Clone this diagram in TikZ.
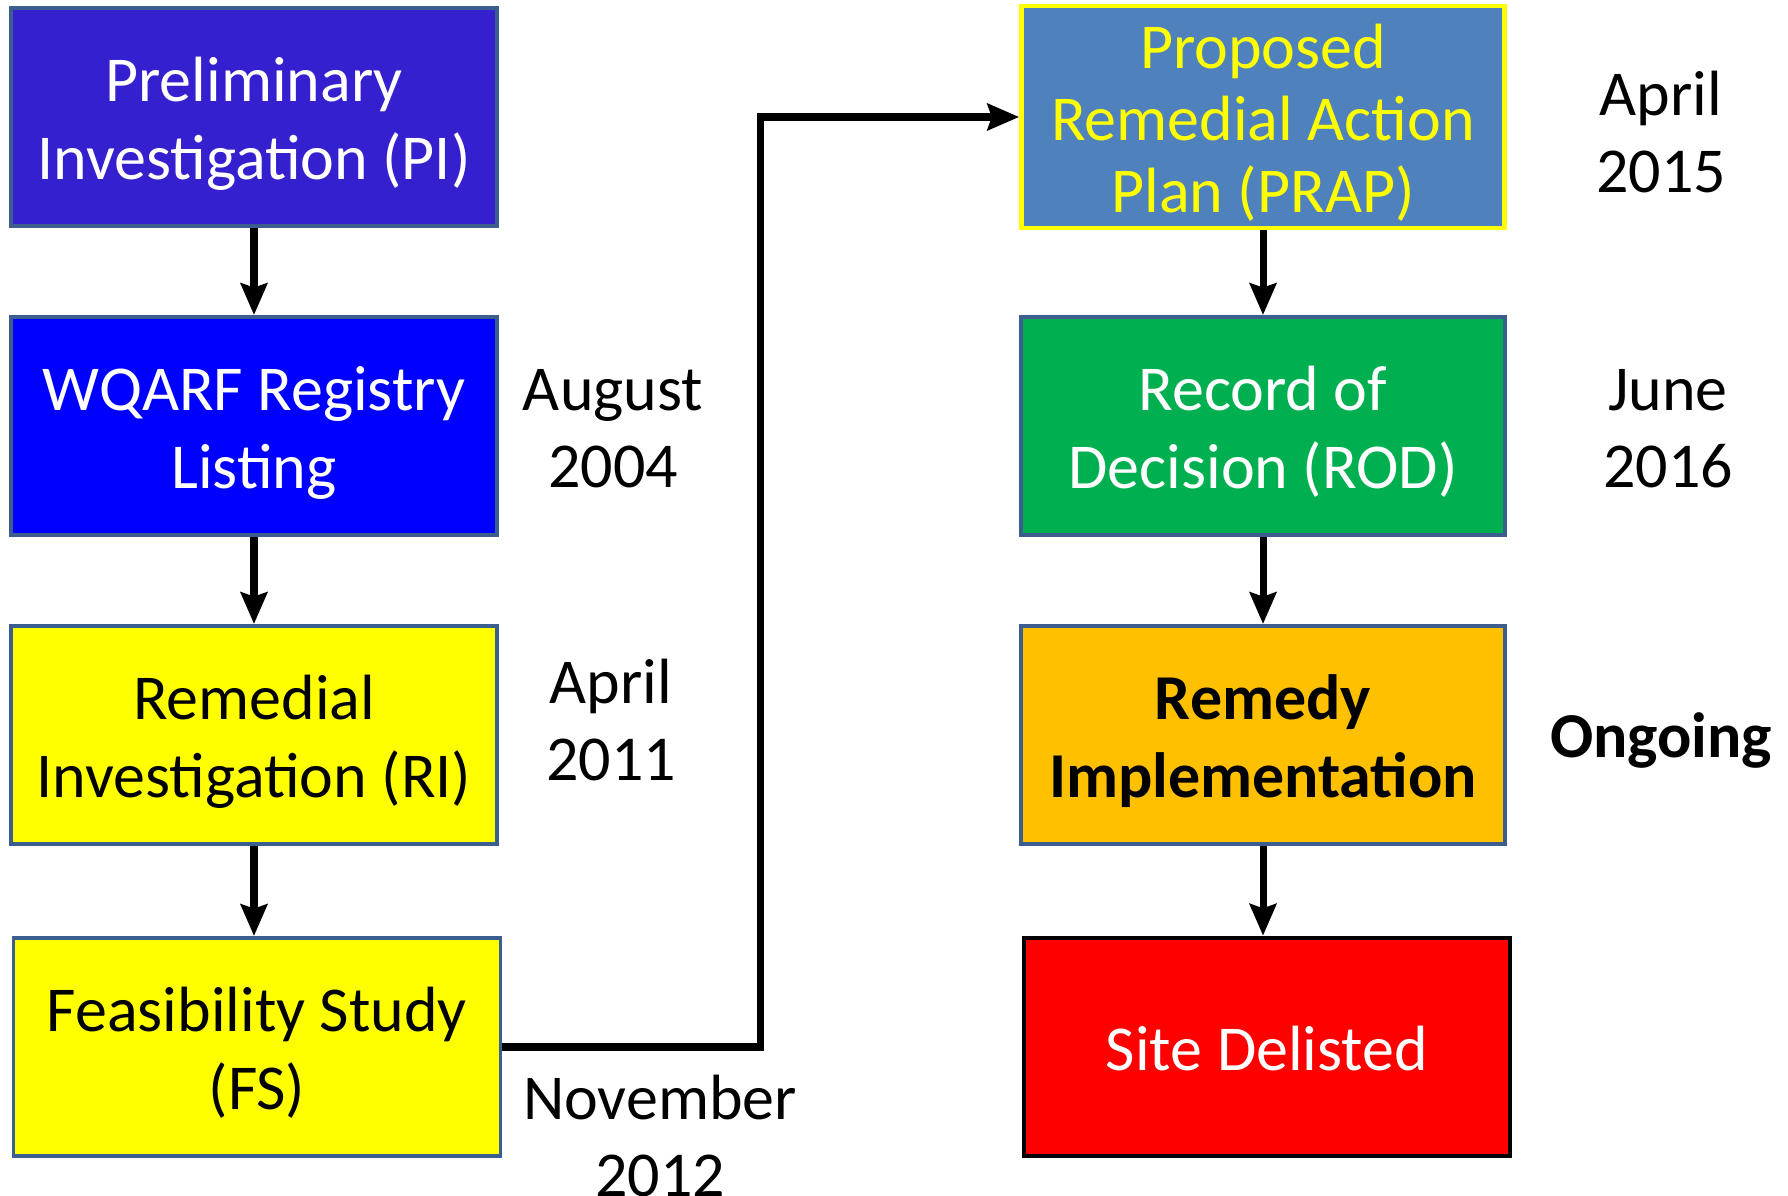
\documentclass[tikz,border=0pt]{standalone}
\usepackage{fontspec}
\setmainfont{Carlito}
\usetikzlibrary{arrows.meta}
\usetikzlibrary{positioning}

\begin{document}
\begin{tikzpicture}
    \definecolor{pi_blue}{HTML}{3520D0}
    \definecolor{reg_blue}{HTML}{0000FF}
    \definecolor{ri_yellow}{HTML}{FFFF00}
    \definecolor{prap_blue}{HTML}{4F81BD}
    \definecolor{rod_green}{HTML}{00B050}
    \definecolor{remedy_orange}{HTML}{FFC000}
    \definecolor{site_red}{HTML}{FF0000}
    \definecolor{edge_blue}{HTML}{3C5E8E}
    \tikzstyle{stage}=[rectangle, draw=edge_blue, line width=1.1pt,
                       minimum width=4.86cm, minimum height=2.18cm,
                       inner sep=0pt, align=center,
                       text height=39.8pt, text depth=4.5pt,
                       font=\fontsize{18.2}{22}\selectfont]
    \tikzstyle{datelabel}=[align=center, inner sep=0pt,
                           font=\fontsize{18.2}{22}\selectfont]
    \tikzstyle{flowarrow}=[line width=2pt,
                           -{Stealth[length=9pt, width=7.5pt, inset=1.2pt]}]
    \useasboundingbox (0,0) rectangle (17.88,-11.96);
    % left column
    \node[stage, fill=pi_blue, text=white] (prelim) at (2.54,-1.17) {Preliminary\\Investigation (PI)};
    \node[stage, fill=reg_blue, text=white] (registry) at (2.54,-4.26) {WQARF Registry\\Listing};
    \node[stage, fill=ri_yellow] (remedial) at (2.54,-7.35) {Remedial\\Investigation (RI)};
    \node[stage, fill=ri_yellow, minimum width=4.87cm] (feasibility) at (2.57,-10.47) {Feasibility Study\\(FS)};
    % right column
    \node[stage, fill=prap_blue, draw=ri_yellow, line width=1.3pt, text=ri_yellow,
          minimum width=4.83cm, text height=58.6pt,
          font=\fontsize{18.2}{20.4}\selectfont] (prap) at (12.63,-1.17) {Proposed\\Remedial Action\\Plan (PRAP)};
    \node[stage, fill=rod_green, text=white, minimum width=4.84cm] (rod) at (12.63,-4.26) {Record of\\Decision (ROD)};
    \node[stage, fill=remedy_orange, minimum width=4.84cm,
          font=\fontsize{18.2}{22}\selectfont\bfseries] (remedy) at (12.63,-7.35) {Remedy\\Implementation};
    \node[stage, fill=site_red, draw=black, line width=1.3pt, text=white,
          text height=17.8pt] (delisted) at (12.67,-10.47) {Site Delisted};
    % dates
    \node[datelabel] (aug) at (6.13,-4.29) {August\\2004};
    \node[datelabel] (apr11) at (6.11,-7.20) {April\\2011};
    \node[datelabel] (nov) at (6.60,-11.36) {November\\2012};
    \node[datelabel] (apr15) at (16.61,-1.32) {April\\2015};
    \node[datelabel] (jun) at (16.68,-4.29) {June\\2016};
    \node[datelabel, font=\fontsize{18.2}{22}\selectfont\bfseries] (ongoing) at (16.61,-7.40) {Ongoing};
    % connectors
    \coordinate (bend) at (7.60,-1.17);
    \draw[flowarrow] (prelim) -- (registry);
    \draw[flowarrow] (registry) -- (remedial);
    \draw[flowarrow] (remedial.south) -- (remedial.south |- feasibility.north);
    \draw[flowarrow] (feasibility.east) -| (bend) -- (prap.west);
    \draw[flowarrow] (prap) -- (rod);
    \draw[flowarrow] (rod) -- (remedy);
    \draw[flowarrow] (remedy.south) -- (remedy.south |- delisted.north);
\end{tikzpicture}
\end{document}
